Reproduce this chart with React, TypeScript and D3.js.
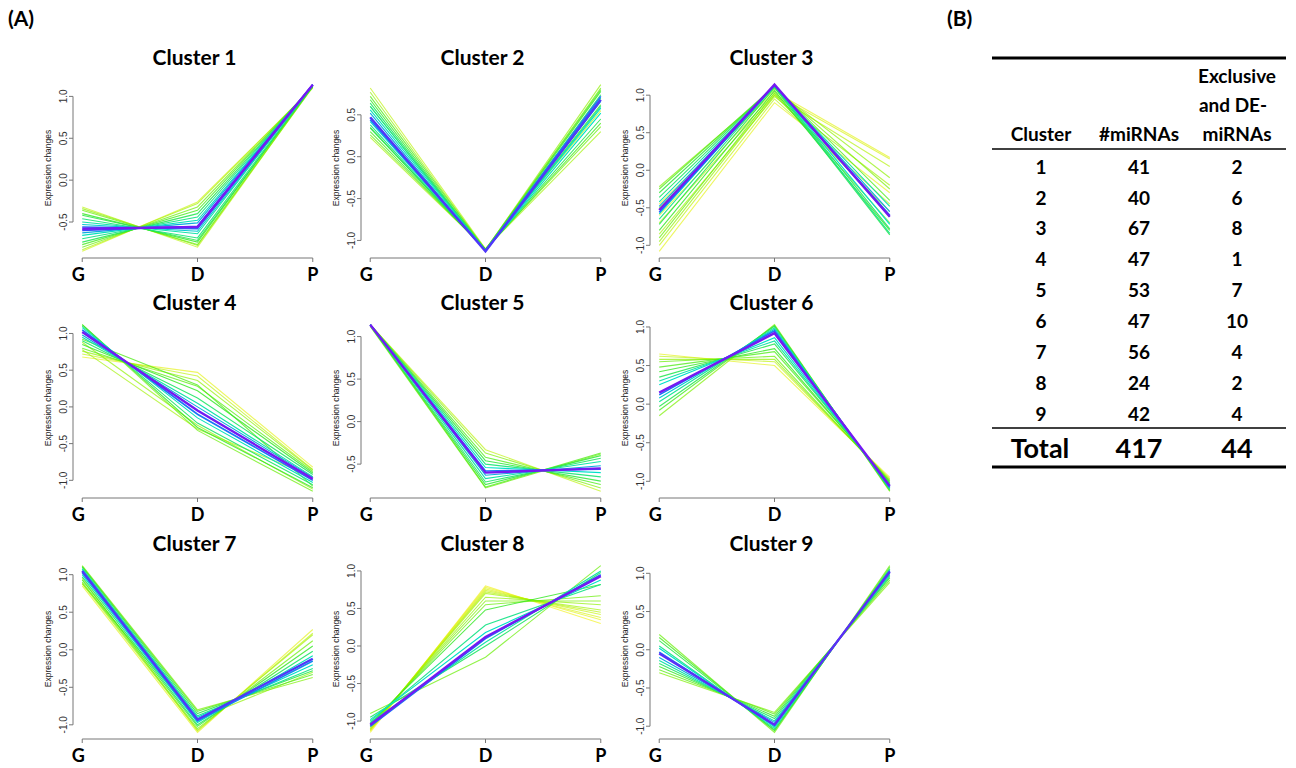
import { useEffect, useRef } from 'react'
import * as d3 from 'd3'

// time points on the x axis
const stages = ['G', 'D', 'P']

// each profile: [G, D, P, membership]
const cluster1 = [
  [-0.32, -0.80, 1.12, 0.35], [-0.34, -0.78, 1.11, 0.40], [-0.36, -0.77, 1.12, 0.45],
  [-0.40, -0.74, 1.13, 0.55], [-0.42, -0.72, 1.12, 0.60], [-0.46, -0.69, 1.13, 0.68],
  [-0.50, -0.64, 1.14, 0.75], [-0.53, -0.61, 1.13, 0.82], [-0.56, -0.58, 1.14, 0.90],
  [-0.58, -0.56, 1.14, 0.99], [-0.60, -0.55, 1.14, 0.94], [-0.63, -0.51, 1.14, 0.85],
  [-0.66, -0.48, 1.13, 0.78], [-0.70, -0.44, 1.13, 0.70], [-0.74, -0.40, 1.12, 0.62],
  [-0.77, -0.36, 1.12, 0.52], [-0.80, -0.32, 1.11, 0.45], [-0.83, -0.28, 1.11, 0.38],
  [-0.85, -0.26, 1.10, 0.33]
]
const cluster2 = [
  [0.82, -1.10, 0.55, 0.35], [0.77, -1.11, 0.86, 0.40], [0.72, -1.11, 0.80, 0.50],
  [0.68, -1.12, 0.62, 0.55], [0.64, -1.12, 0.74, 0.65], [0.60, -1.12, 0.70, 0.72],
  [0.56, -1.12, 0.58, 0.78], [0.52, -1.13, 0.66, 0.85], [0.47, -1.13, 0.68, 0.96],
  [0.44, -1.12, 0.72, 0.90], [0.42, -1.12, 0.52, 0.80], [0.38, -1.12, 0.60, 0.70],
  [0.34, -1.11, 0.45, 0.62], [0.30, -1.11, 0.40, 0.52], [0.26, -1.10, 0.36, 0.45],
  [0.23, -1.10, 0.30, 0.38], [0.60, -1.11, 0.82, 0.45], [0.35, -1.12, 0.78, 0.55]
]
const cluster3 = [
  [-1.08, 0.90, -0.30, 0.30], [-1.00, 0.95, -0.45, 0.35], [-0.95, 1.00, -0.55, 0.40],
  [-0.90, 1.03, -0.70, 0.45], [-0.80, 1.06, -0.80, 0.55], [-0.72, 1.10, -0.86, 0.62],
  [-0.65, 1.12, -0.84, 0.70], [-0.58, 1.13, -0.72, 0.80], [-0.53, 1.14, -0.62, 0.99],
  [-0.56, 1.13, -0.60, 0.92], [-0.48, 1.13, -0.55, 0.85], [-0.42, 1.12, -0.48, 0.75],
  [-0.36, 1.12, -0.78, 0.65], [-0.30, 1.12, -0.62, 0.58], [-0.25, 1.12, -0.40, 0.50],
  [-0.22, 1.10, -0.25, 0.42], [-0.45, 1.05, 0.17, 0.30], [-0.60, 1.02, 0.15, 0.32],
  [-0.70, 1.00, 0.05, 0.36], [-0.50, 1.08, -0.10, 0.40], [-0.85, 0.98, -0.20, 0.38]
]
const cluster4 = [
  [0.68, 0.47, -0.82, 0.30], [0.72, 0.42, -0.85, 0.35], [0.76, 0.36, -0.86, 0.40],
  [0.80, 0.28, -0.88, 0.48], [0.85, 0.22, -0.90, 0.55], [0.90, 0.12, -0.92, 0.65],
  [0.95, 0.05, -0.95, 0.75], [0.98, 0.00, -0.96, 0.85], [1.02, -0.05, -0.98, 0.99],
  [1.05, -0.10, -1.00, 0.90], [1.08, -0.15, -1.03, 0.78], [1.10, -0.22, -1.06, 0.66],
  [1.12, -0.28, -1.10, 0.55], [1.12, -0.32, -1.15, 0.45], [0.88, -0.25, -1.12, 0.40],
  [0.92, 0.30, -1.08, 0.50], [0.78, -0.30, -0.95, 0.38]
]
const cluster5 = [
  [1.14, -0.33, -0.82, 0.35], [1.14, -0.37, -0.78, 0.42], [1.14, -0.42, -0.74, 0.50],
  [1.14, -0.46, -0.70, 0.58], [1.14, -0.50, -0.65, 0.68], [1.14, -0.54, -0.60, 0.80],
  [1.14, -0.58, -0.56, 0.90], [1.14, -0.60, -0.55, 0.99], [1.14, -0.63, -0.52, 0.85],
  [1.14, -0.67, -0.47, 0.75], [1.13, -0.71, -0.43, 0.65], [1.13, -0.74, -0.40, 0.58],
  [1.13, -0.77, -0.37, 0.50], [1.12, -0.78, -0.38, 0.45]
]
const cluster6 = [
  [0.65, 0.50, -0.95, 0.30], [0.62, 0.55, -0.97, 0.35], [0.58, 0.58, -0.98, 0.40],
  [0.55, 0.62, -1.00, 0.45], [0.48, 0.68, -1.00, 0.50], [0.42, 0.72, -1.02, 0.55],
  [0.35, 0.78, -1.03, 0.62], [0.30, 0.82, -1.05, 0.75], [0.25, 0.86, -1.06, 0.80],
  [0.15, 0.92, -1.06, 0.99], [0.12, 0.95, -1.08, 0.90], [0.08, 0.97, -1.08, 0.82],
  [0.03, 0.99, -1.10, 0.72], [-0.03, 1.01, -1.11, 0.62], [-0.08, 1.02, -1.12, 0.52],
  [-0.15, 1.03, -1.13, 0.42]
]
const cluster7 = [
  [0.85, -1.10, 0.27, 0.30], [0.88, -1.07, 0.20, 0.38], [0.90, -1.05, 0.12, 0.45],
  [0.93, -1.02, 0.05, 0.55], [0.97, -1.00, -0.02, 0.65], [1.00, -0.97, -0.08, 0.78],
  [1.05, -0.93, -0.12, 0.96], [1.03, -0.95, -0.15, 0.88], [1.07, -0.90, -0.20, 0.80],
  [1.08, -0.88, -0.25, 0.70], [1.10, -0.85, -0.28, 0.60], [1.11, -0.82, -0.33, 0.50],
  [1.12, -0.80, -0.37, 0.42], [0.88, -0.92, -0.30, 0.40], [0.95, -1.08, 0.22, 0.35]
]
const cluster8 = [
  [-1.15, 0.80, 0.30, 0.28], [-1.13, 0.78, 0.35, 0.30], [-1.12, 0.76, 0.38, 0.32],
  [-1.12, 0.74, 0.42, 0.34], [-1.10, 0.72, 0.45, 0.36], [-1.10, 0.70, 0.48, 0.38],
  [-1.08, 0.65, 0.55, 0.40], [-1.06, 0.60, 0.60, 0.42], [-1.05, 0.55, 0.67, 0.45],
  [-1.03, 0.48, 0.82, 0.55], [-0.90, -0.15, 1.07, 0.45], [-0.95, 0.00, 0.98, 0.65],
  [-1.00, 0.28, 0.82, 0.70], [-0.98, 0.18, 0.88, 0.80], [-1.02, 0.05, 1.00, 0.75],
  [-1.05, 0.12, 0.93, 0.99], [-1.07, 0.10, 0.95, 0.90]
]
const cluster9 = [
  [0.20, -1.08, 1.10, 0.45], [0.16, -1.06, 1.08, 0.52], [0.12, -1.05, 1.06, 0.60],
  [0.05, -1.03, 1.05, 0.70], [0.02, -1.01, 1.04, 0.80], [-0.03, -0.99, 1.03, 0.90],
  [-0.05, -0.98, 1.02, 0.97], [-0.10, -0.95, 1.00, 0.85], [-0.14, -0.93, 0.98, 0.75],
  [-0.18, -0.90, 0.96, 0.65], [-0.22, -0.87, 0.94, 0.55], [-0.26, -0.84, 0.91, 0.48],
  [-0.30, -0.82, 0.88, 0.42]
]
const clusters = [cluster1, cluster2, cluster3, cluster4, cluster5, cluster6, cluster7, cluster8, cluster9]

// table (B)
const tableClusters = ['1', '2', '3', '4', '5', '6', '7', '8', '9']
const miRNACounts = [41, 40, 67, 47, 53, 47, 56, 24, 42]
const exclusiveCounts = [2, 6, 8, 1, 7, 10, 4, 2, 4]
const totalLabel = 'Total'

const W = 1296
const H = 768
const colLeft = [73, 361, 650]
const panelW = 249
const rowBottom = [258, 498, 739]
const rowTitle = [58, 303, 544]
const panelH = 180
const titleFont = 'Lato, "Open Sans", sans-serif'

export default function App() {
  const svgRef = useRef<SVGSVGElement>(null)

  useEffect(() => {
    if (!svgRef.current) return
    const svg = d3.select(svgRef.current)
    svg.selectAll('*').remove()

    // membership -> colour, yellow (weak) through green and cyan to blue/purple (core)
    const color = d3.scaleLinear<string>()
      .domain([0.28, 0.34, 0.42, 0.55, 0.8, 0.92, 1])
      .range(['#f0f000', '#c4f200', '#7cf000', '#30e820', '#00e0c8', '#2060ff', '#8010f0'])
      .clamp(true)
    const opacity = d3.scaleLinear().domain([0.28, 0.8]).range([0.6, 1]).clamp(true)

    svg.append('text')
      .attr('x', 8).attr('y', 26)
      .style('font-family', titleFont).style('font-weight', 700).style('font-size', '21px')
      .text('(A)')

    clusters.forEach((rows, i) => {
      const left = colLeft[i % 3]
      const bottom = rowBottom[Math.floor(i / 3)]
      const top = bottom - panelH
      const g = svg.append('g')

      const x = d3.scalePoint<string>().domain(stages).range([left, left + panelW]).padding(0.08)
      const vals = rows.flatMap(r => r.slice(0, 3))
      const [lo, hi] = d3.extent(vals) as [number, number]
      const ext = (hi - lo) * 0.04
      const y = d3.scaleLinear().domain([lo - ext, hi + ext]).range([bottom, top])

      const line = d3.line<number>()
        .x((_, k) => x(stages[k]) as number)
        .y(v => y(v))

      const sorted = [...rows].sort((a, b) => a[3] - b[3])
      g.selectAll('path.prof')
        .data(sorted)
        .enter()
        .append('path')
        .attr('class', 'prof')
        .attr('d', d => line(d.slice(0, 3)))
        .attr('fill', 'none')
        .attr('stroke', d => color(d[3]))
        .attr('stroke-opacity', d => opacity(d[3]))
        .attr('stroke-width', d => (d[3] > 0.95 ? 2.4 : d[3] > 0.85 ? 1.6 : 1.1))

      // y axis
      const ticks = y.ticks(5).filter(t => t >= y.domain()[0] && t <= y.domain()[1])
      const ax = left
      g.append('line')
        .attr('x1', ax).attr('x2', ax)
        .attr('y1', y(ticks[0])).attr('y2', y(ticks[ticks.length - 1]))
        .attr('stroke', '#777').attr('stroke-width', 1)
      ticks.forEach(t => {
        g.append('line')
          .attr('x1', ax - 4).attr('x2', ax)
          .attr('y1', y(t)).attr('y2', y(t))
          .attr('stroke', '#777')
        g.append('text')
          .attr('transform', `translate(${ax - 6},${y(t)}) rotate(-90)`)
          .attr('text-anchor', 'middle')
          .style('font-family', '"Liberation Sans", Arial, sans-serif')
          .style('font-size', '10px')
          .style('fill', '#333')
          .text(d3.format('.1f')(t).replace('−', '-'))
      })
      g.append('text')
        .attr('transform', `translate(${ax - 22},${(top + bottom) / 2}) rotate(-90)`)
        .attr('text-anchor', 'middle')
        .style('font-family', '"Liberation Sans", Arial, sans-serif')
        .style('font-size', '8.5px')
        .style('fill', '#222')
        .text('Expression changes')

      // x axis
      g.append('line')
        .attr('x1', x('G') as number).attr('x2', x('P') as number)
        .attr('y1', bottom).attr('y2', bottom)
        .attr('stroke', '#777')
      stages.forEach(s => {
        g.append('line')
          .attr('x1', x(s) as number).attr('x2', x(s) as number)
          .attr('y1', bottom).attr('y2', bottom + 4)
          .attr('stroke', '#777')
        g.append('text')
          .attr('x', (x(s) as number) + (s === 'G' ? -4 : 0))
          .attr('y', bottom + 17)
          .attr('dy', '0.35em')
          .attr('text-anchor', 'middle')
          .style('font-family', titleFont).style('font-weight', 700).style('font-size', '18px')
          .text(s)
      })

      g.append('text')
        .attr('x', left + panelW / 2 - 3)
        .attr('y', rowTitle[Math.floor(i / 3)])
        .attr('dy', '0.35em')
        .attr('text-anchor', 'middle')
        .style('font-family', titleFont).style('font-weight', 700).style('font-size', '21px')
        .text(`Cluster ${i + 1}`)
    })

    // table (B)
    const t = svg.append('g')
    t.append('text')
      .attr('x', 947).attr('y', 26)
      .style('font-family', titleFont).style('font-weight', 700).style('font-size', '21px')
      .text('(B)')

    const tx0 = 992
    const tx1 = 1286
    const cx = [1041, 1139, 1237]
    const rowY = d3.scaleLinear().domain([0, 8]).range([167, 414])
    const cell = (xx: number, yy: number, s: string, size = 19) =>
      t.append('text')
        .attr('x', xx).attr('y', yy).attr('dy', '0.35em')
        .attr('text-anchor', 'middle')
        .style('font-family', titleFont).style('font-weight', 700).style('font-size', `${size}px`)
        .text(s)

    t.append('line').attr('x1', tx0).attr('x2', tx1).attr('y1', 58).attr('y2', 58)
      .attr('stroke', '#000').attr('stroke-width', 3)
    cell(cx[2], 76, 'Exclusive')
    cell(cx[2] - 4, 105, 'and DE-')
    cell(cx[0], 134, 'Cluster')
    cell(cx[1], 134, '#miRNAs')
    cell(cx[2], 134, 'miRNAs')
    t.append('line').attr('x1', tx0).attr('x2', tx1).attr('y1', 149).attr('y2', 149)
      .attr('stroke', '#000').attr('stroke-width', 1.5)

    tableClusters.forEach((c, k) => {
      cell(cx[0], rowY(k), c)
      cell(cx[1], rowY(k), String(miRNACounts[k]))
      cell(cx[2], rowY(k), String(exclusiveCounts[k]))
    })
    t.append('line').attr('x1', tx0).attr('x2', tx1).attr('y1', 428).attr('y2', 428)
      .attr('stroke', '#000').attr('stroke-width', 1.5)
    cell(cx[0] - 1, 449, totalLabel, 27)
    cell(cx[1], 449, String(d3.sum(miRNACounts)), 27)
    cell(cx[2], 449, String(d3.sum(exclusiveCounts)), 27)
    t.append('line').attr('x1', tx0).attr('x2', tx1).attr('y1', 467).attr('y2', 467)
      .attr('stroke', '#000').attr('stroke-width', 3)
  }, [])

  return (
    <svg
      ref={svgRef}
      width={W}
      height={H}
      style={{ position: 'absolute', left: 0, top: 0, background: '#fff' }}
    />
  )
}
